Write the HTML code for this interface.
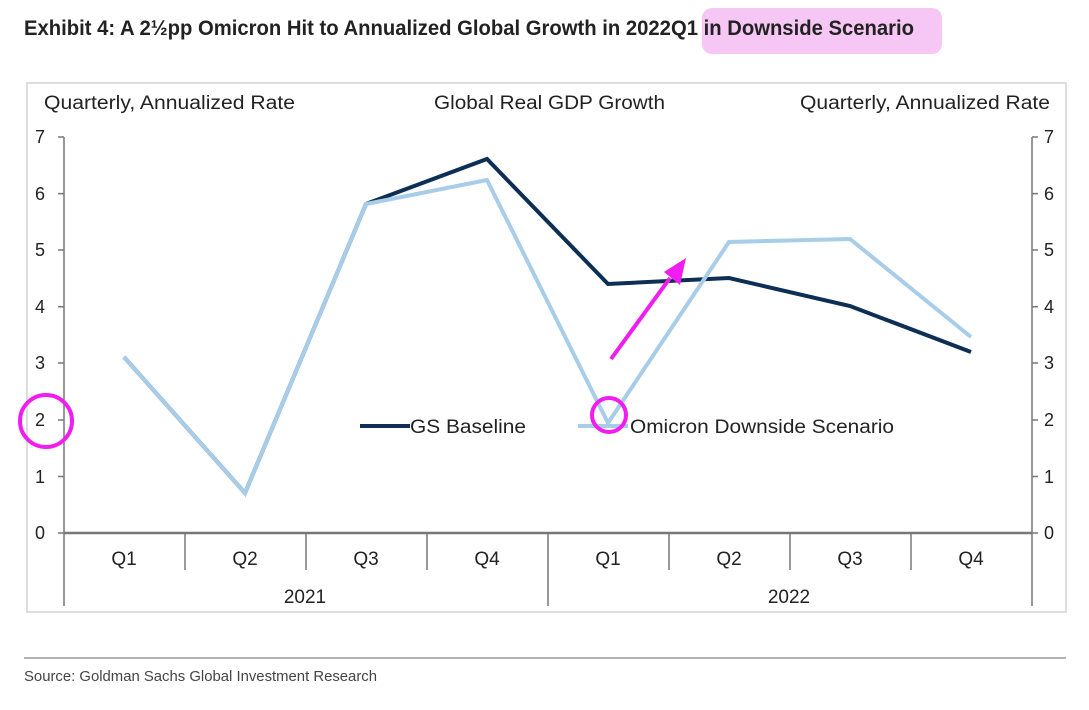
<!DOCTYPE html>
<html><head><meta charset="utf-8"><style>
body{margin:0;background:#fff;width:1089px;height:705px;overflow:hidden;font-family:"Liberation Sans",sans-serif}
</style></head><body>
<svg width="1089" height="705" xmlns="http://www.w3.org/2000/svg" font-family="Liberation Sans, sans-serif">
<rect x="702" y="8" width="240" height="46" fill="#f6c6f4" rx="10"/>
<text x="24" y="35" font-size="21" font-weight="bold" fill="#222" font-family="Liberation Sans Narrow, Liberation Sans, sans-serif" textLength="890" lengthAdjust="spacingAndGlyphs">Exhibit 4: A 2½pp Omicron Hit to Annualized Global Growth in 2022Q1 in Downside Scenario</text>
<rect x="27" y="83" width="1039" height="529" fill="none" stroke="#ddd" stroke-width="2"/>
<g font-size="19" fill="#222">
<text x="44" y="109" textLength="251" lengthAdjust="spacingAndGlyphs">Quarterly, Annualized Rate</text>
<text x="434" y="109" textLength="231" lengthAdjust="spacingAndGlyphs">Global Real GDP Growth</text>
<text x="800" y="109" textLength="250" lengthAdjust="spacingAndGlyphs">Quarterly, Annualized Rate</text>
</g>
<g stroke="#777" stroke-width="1.5" fill="none">
<line x1="64" y1="137" x2="64" y2="606"/><line x1="1032" y1="137" x2="1032" y2="606"/>
<line x1="64" y1="533" x2="1032" y2="533" stroke-width="2.5"/>
<line x1="185" y1="533" x2="185" y2="570"/><line x1="306" y1="533" x2="306" y2="570"/><line x1="427" y1="533" x2="427" y2="570"/>
<line x1="548" y1="533" x2="548" y2="606"/>
<line x1="669" y1="533" x2="669" y2="570"/><line x1="790" y1="533" x2="790" y2="570"/><line x1="911" y1="533" x2="911" y2="570"/>
<path d="M58 137H64M58 193.6H64M58 250H64M58 306.7H64M58 363H64M58 420H64M58 476.5H64M58 533H64"/>
<path d="M1032 137H1038M1032 193.6H1038M1032 250H1038M1032 306.7H1038M1032 363H1038M1032 420H1038M1032 476.5H1038M1032 533H1038"/>
</g>
<g font-size="18" fill="#222">
<text x="35" y="143">7</text><text x="35" y="200">6</text><text x="35" y="256">5</text><text x="35" y="313">4</text><text x="35" y="369">3</text><text x="35" y="426">2</text><text x="35" y="483">1</text><text x="35" y="539">0</text>
<text x="1044" y="143">7</text><text x="1044" y="200">6</text><text x="1044" y="256">5</text><text x="1044" y="313">4</text><text x="1044" y="369">3</text><text x="1044" y="426">2</text><text x="1044" y="483">1</text><text x="1044" y="539">0</text>
</g>
<g font-size="19" fill="#222" text-anchor="middle">
<text x="124" y="565">Q1</text><text x="245" y="565">Q2</text><text x="366" y="565">Q3</text><text x="487" y="565">Q4</text>
<text x="608" y="565">Q1</text><text x="729" y="565">Q2</text><text x="850" y="565">Q3</text><text x="971" y="565">Q4</text>
<text x="305" y="603">2021</text><text x="789" y="603">2022</text>
</g>
<polyline points="124,357 245,493 366,204 487,159 608,284 729,278 850,306 971,352" fill="none" stroke="#0d2f55" stroke-width="4"/>
<polyline points="124,357 245,493 366,204 487,180 608,423 729,242 850,239 971,337" fill="none" stroke="#a8cde9" stroke-width="4"/>
<line x1="360" y1="426" x2="410" y2="426" stroke="#0d2f55" stroke-width="4"/>
<text x="410" y="433" font-size="19" fill="#222" textLength="116" lengthAdjust="spacingAndGlyphs">GS Baseline</text>
<line x1="578" y1="426" x2="628" y2="426" stroke="#a8cde9" stroke-width="4"/>
<text x="630" y="433" font-size="19" fill="#222" textLength="264" lengthAdjust="spacingAndGlyphs">Omicron Downside Scenario</text>
<g stroke="#f01cf0" stroke-width="4" fill="none">
<circle cx="46" cy="421" r="26"/>
<circle cx="609" cy="415" r="17"/>
<line x1="611" y1="359" x2="670" y2="278"/>
</g>
<polygon points="686,258 664,272 680,285" fill="#f01cf0"/>
<line x1="24" y1="658" x2="1066" y2="658" stroke="#999" stroke-width="1.5"/>
<text x="24" y="681" font-size="15" fill="#444" font-family="Liberation Sans Narrow, Liberation Sans, sans-serif" textLength="353" lengthAdjust="spacingAndGlyphs">Source: Goldman Sachs Global Investment Research</text>
</svg>
</body></html>
